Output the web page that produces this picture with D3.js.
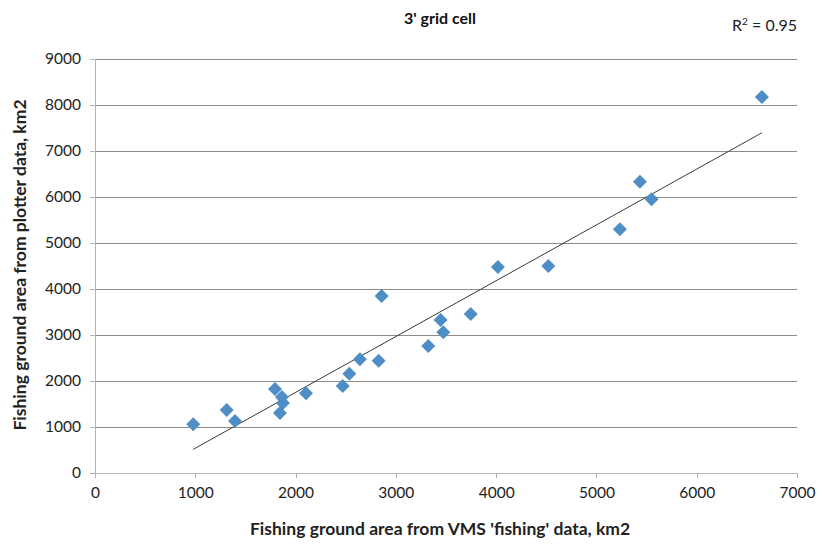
<!DOCTYPE html>
<html><head><meta charset="utf-8">
<script src="https://cdn.jsdelivr.net/npm/d3@7"></script>
<style>body{margin:0;background:#fff}svg{display:block}text{font-family:Lato,"Open Sans",sans-serif}</style>
</head><body><svg id="c" width="823" height="544"></svg>
<script>
const vmsArea = [980,1313,1396,1795,1864,1874,1844,2104,2470,2536,2642,2828,2858,3323,3446,3473,3746,4018,4520,5234,5434,5550,6650];
const plotterArea = [1059,1370,1130,1826,1652,1522,1304,1733,1891,2160,2471,2441,3848,2761,3326,3058,3457,4480,4500,5297,6333,5950,8174];
const xTicks = [0,1000,2000,3000,4000,5000,6000,7000];
const yTicks = [0,1000,2000,3000,4000,5000,6000,7000,8000,9000];
const title = "3' grid cell";
const xLabel = "Fishing ground area from VMS 'fishing' data, km2";
const yLabel = "Fishing ground area from plotter data, km2";
const r2Text = "0.95";

const svg = d3.select("#c");
const m = {l:95, r:797, t:59, b:473};
const x = d3.scaleLinear().domain([0,7000]).range([m.l,m.r]);
const y = d3.scaleLinear().domain([0,9000]).range([m.b,m.t]);

svg.append("g").selectAll("line").data(yTicks.slice(1)).join("line")
  .attr("x1",m.l).attr("x2",m.r).attr("y1",d=>y(d)).attr("y2",d=>y(d))
  .attr("stroke","#8c8c8c").attr("stroke-width",1).attr("shape-rendering","crispEdges");

const yAxis = svg.append("g").attr("transform",`translate(${m.l},0)`)
  .call(d3.axisLeft(y).tickValues(yTicks).tickSize(5).tickPadding(9).tickFormat(d3.format("d")));
const xAxis = svg.append("g").attr("transform",`translate(0,${m.b})`)
  .call(d3.axisBottom(x).tickValues(xTicks).tickSize(5).tickPadding(9).tickFormat(d3.format("d")));
[xAxis,yAxis].forEach(a=>{
  a.selectAll("path,line").attr("stroke","#b3b3b3").attr("shape-rendering","crispEdges");
  a.selectAll("text").attr("fill","#222").style("font-size","15.5px");
});
yAxis.select(".domain").attr("d",`M0,${m.t}V${m.b}`);
xAxis.select(".domain").attr("d",`M${m.l},0H${m.r}`);

const n = vmsArea.length;
const mx = d3.mean(vmsArea), my = d3.mean(plotterArea);
let sxy=0,sxx=0;
for(let i=0;i<n;i++){sxy+=(vmsArea[i]-mx)*(plotterArea[i]-my);sxx+=(vmsArea[i]-mx)**2;}
const slope = sxy/sxx, intercept = my - slope*mx;
const [x0,x1] = d3.extent(vmsArea);
svg.append("line").attr("x1",x(x0)).attr("y1",y(intercept+slope*x0))
  .attr("x2",x(x1)).attr("y2",y(intercept+slope*x1))
  .attr("stroke","#3a3a3a").attr("stroke-width",1);

const sym = d3.symbol().type(d3.symbolSquare).size(98);
svg.append("g").selectAll("path").data(vmsArea.map((v,i)=>[v,plotterArea[i]])).join("path")
  .attr("d",sym).attr("transform",d=>`translate(${x(d[0])},${y(d[1])}) rotate(45)`)
  .attr("fill","#4f8dc7");

svg.append("text").attr("x",440).attr("y",24).attr("text-anchor","middle")
  .style("font-size","16px").style("font-weight","bold").attr("fill","#111").text(title);
const r2 = svg.append("text").attr("x",797).attr("y",31).attr("text-anchor","end")
  .style("font-size","16px").attr("fill","#222");
r2.append("tspan").text("R");
r2.append("tspan").attr("dy",-6).style("font-size","10px").text("2");
r2.append("tspan").attr("dy",6).text(" = "+r2Text);

svg.append("text").attr("x",440).attr("y",535).attr("text-anchor","middle")
  .style("font-size","17.5px").style("font-weight","bold").attr("fill","#222").text(xLabel);
svg.append("text").attr("transform",`translate(26,265) rotate(-90)`).attr("text-anchor","middle")
  .style("font-size","17.5px").style("font-weight","bold").attr("fill","#222").text(yLabel);
</script></body></html>
